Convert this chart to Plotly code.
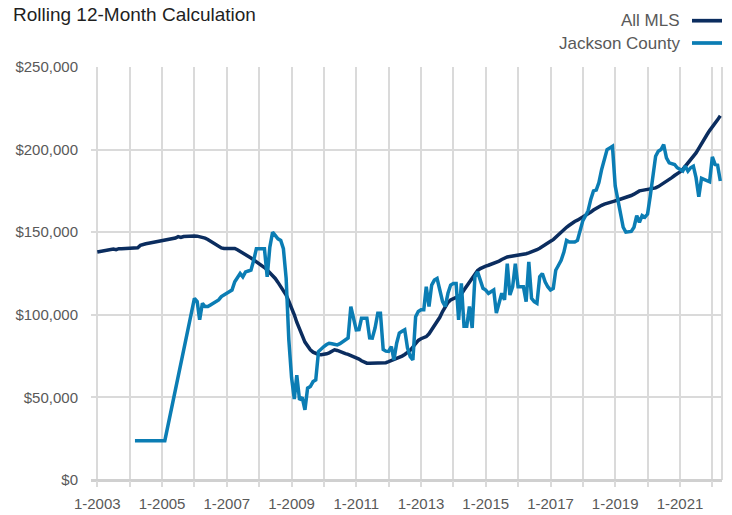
import pandas as pd
import plotly.graph_objects as go

# Rolling 12-month median price, in thousands of dollars, monthly
all_mls_start = "2003-01-01"
all_mls = [
    138.0, 138.3, 138.6, 139.0, 139.3, 139.6, 139.8, 139.4, 140.0, 140.0, 140.1, 140.2,  # 2003
    140.3, 140.4, 140.5, 140.6, 142.0, 142.7, 143.0, 143.3, 143.6, 143.9, 144.1, 144.4,  # 2004
    144.8, 145.1, 145.3, 145.5, 145.8, 146.5, 147.3, 146.8, 147.4, 147.6, 147.7, 147.7,  # 2005
    147.7, 147.6, 147.3, 146.7, 146.4, 145.6, 144.6, 143.4, 142.2, 141.2, 140.5, 140.2,  # 2006
    140.2, 140.2, 140.2, 140.2, 139.4, 138.5, 137.6, 136.6, 135.5, 134.4, 133.2, 132.1,  # 2007
    131.2, 130.0, 128.6, 127.1, 125.6, 124.1, 122.0, 119.6, 117.2, 115.0, 112.0, 108.2,  # 2008
    104.5, 100.0, 95.5, 92.0, 87.5, 83.5, 80.8, 78.8, 77.4, 76.6, 76.0, 75.8,            # 2009
    76.0, 76.4, 77.0, 77.8, 78.8, 78.4, 77.6, 77.0, 76.5, 76.0, 75.4, 74.8,              # 2010
    74.0, 73.2, 72.2, 71.2, 70.7, 70.7, 70.7, 70.7, 70.7, 70.7, 70.8, 71.0,              # 2011
    71.6, 72.2, 72.8, 73.3, 74.0, 75.0, 76.0, 77.0, 78.5, 80.5, 82.5, 84.5,              # 2012
    85.5, 86.2, 86.8, 88.5, 91.0, 93.5, 95.5, 98.5, 102.0, 105.0, 107.5, 109.0,          # 2013
    110.0, 110.5, 111.0, 112.5, 115.0, 117.5, 119.5, 122.0, 124.5, 126.8, 128.0, 129.0,  # 2014
    129.5, 130.0, 130.5, 131.3, 132.0, 132.5, 133.5, 134.5, 135.0, 135.3, 135.5, 135.8,  # 2015
    136.0, 136.3, 136.6, 137.0, 137.5, 138.0, 138.6, 139.4, 140.3, 141.2, 142.2, 143.5,  # 2016
    144.5, 145.5, 147.0, 148.5, 150.0, 151.5, 153.0, 154.2, 155.5, 156.5, 157.3, 158.2,  # 2017
    159.2, 160.2, 161.2, 162.2, 163.4, 164.5, 165.5, 166.3, 167.0, 167.6, 168.1, 168.5,  # 2018
    169.0, 169.5, 170.0, 170.4, 170.8, 171.3, 172.2, 173.0, 174.0, 175.0, 175.3, 175.6,  # 2019
    175.8, 176.0, 176.3, 176.8, 177.6, 178.6, 179.6, 180.5, 181.5, 183.0, 184.3, 185.3,  # 2020
    186.5, 188.0, 189.8, 191.5, 193.5, 195.5, 198.0, 200.8, 203.8, 206.5, 209.0, 211.5,  # 2021
    213.5, 215.5, 218.0, 220.5,                                                          # 2022
]

jackson_start = "2004-01-01"
jackson = [
    None, None, 23.8, 23.8, 23.8, 23.8, 23.8, 23.8, 23.8, 23.8, 23.8, 23.8,              # 2004
    23.8, 23.8, None, None, None, None, None, None, None, None, None, None,              # 2005
    110, 108, 97, 107, 105, 105, 106, 107, 108, 109, 111, 112,                           # 2006
    113, 114, 115, 120, 123, 125, 123, 126, 126.5, 127, 133, 140,                        # 2007
    140, 140, 140, 123, 141, 150, 148, 146, 145, 140, 122, 85,                           # 2008
    62, 49, 63.5, 48.5, 50, 42.5, 55.6, 56.6, 59.6, 60.6, 77.8, 79.5,                    # 2009
    80.8, 82, 82.8, 82.5, 82, 81.8, 82.5, 83.8, 85, 86, 105, 98,                         # 2010
    90.9, 91, 97.9, 97.9, 97.9, 86, 85.9, 92, 101, 101, 79, 78,                          # 2011
    77.8, 80.8, 72.7, 82.8, 88.9, 90, 90.9, 80, 74.7, 72.7, 98.9, 102,                   # 2012
    103, 103, 117, 105, 118, 121, 122, 115, 108, 105, 113, 118,                          # 2013
    119, 119, 97, 119, 93, 93, 105, 92, 123, 126, 121, 116,                              # 2014
    115, 113, 114, 115, 101, 108, 113, 109, 131, 112, 117, 131,                          # 2015
    117, 117, 117, 108, 132, 110, 108, 107, 123, 125, 120, 117,                          # 2016
    115, 116, 127, 130, 133, 138, 145, 144, 144, 144, 145, 152,                          # 2017
    157, 160, 163, 170, 175, 175.5, 180, 188, 195, 200, 201, 202,                        # 2018
    178, 170, 162, 153, 150, 150, 150.5, 153, 160, 156, 160, 159,                        # 2019
    161, 172, 185, 196, 199, 200, 203, 195, 192, 191.5, 191, 189,                        # 2020
    188, 187, 190, 187, 189, 190, 183, 171.5, 182.6, 182, 181, 180.5,                    # 2021
    195.6, 191, 190.6, 181,                                                              # 2022
]

series_names = ["All MLS", "Jackson County"]
series_colors = ["#0b2d5f", "#0b7db4"]

tick_years = list(range(2003, 2023))
tick_labels = [f"1-{y}" if (y - 2003) % 2 == 0 else "" for y in tick_years]
y_ticks = [0, 50000, 100000, 150000, 200000, 250000]
y_tick_labels = ["$0", "$50,000", "$100,000", "$150,000", "$200,000", "$250,000"]

FONT = "Liberation Sans, Arial, sans-serif"
GRID = "#dadada"

mls_dates = pd.date_range(all_mls_start, periods=len(all_mls), freq="MS")
jc_dates = pd.date_range(jackson_start, periods=len(jackson), freq="MS")

fig = go.Figure()
fig.add_trace(go.Scatter(
    x=mls_dates, y=[v * 1000 for v in all_mls], mode="lines", name=series_names[0],
    line=dict(color=series_colors[0], width=3.5), connectgaps=True))
fig.add_trace(go.Scatter(
    x=jc_dates, y=[None if v is None else v * 1000 for v in jackson], mode="lines",
    name=series_names[1], line=dict(color=series_colors[1], width=3.5), connectgaps=True))

L, R, T, B = 91, 10, 67, 35
fig.update_layout(
    width=732, height=515,
    margin=dict(l=L, r=R, t=T, b=B, pad=0, autoexpand=False),
    paper_bgcolor="white", plot_bgcolor="white",
    showlegend=False,
    font=dict(family=FONT, color="#595959"),
    xaxis=dict(
        type="date", automargin=False,
        range=["2002-10-22", "2022-04-20"],
        tickvals=[f"{y}-01-01" for y in tick_years],
        ticktext=tick_labels,
        showgrid=True, gridcolor=GRID, gridwidth=2,
        ticks="outside", ticklen=6, tickwidth=2, tickcolor=GRID,
        ticklabelstandoff=4,
        tickfont=dict(size=15, color="#595959"),
        showline=False, zeroline=False,
    ),
    yaxis=dict(
        range=[0, 250000], automargin=False,
        tickvals=y_ticks, ticktext=y_tick_labels,
        showgrid=True, gridcolor=GRID, gridwidth=2,
        zeroline=True, zerolinecolor="#d0d0d0", zerolinewidth=2.5,
        ticks="", ticklabelstandoff=12,
        tickfont=dict(size=15, color="#595959"),
        showline=False,
    ),
)

# right border of plot area
fig.add_shape(type="line", xref="paper", yref="paper", x0=1, x1=1, y0=0, y1=1,
              line=dict(color=GRID, width=2), layer="below")

PW = 732 - L - R
PH = 515 - T - B
def px(xp):
    return (xp - L) / PW
def py(yp):
    return 1 + (T - yp) / PH

# title
fig.add_annotation(text="Rolling 12-Month Calculation", xref="paper", yref="paper",
                   x=px(11), y=py(14), xanchor="left", yanchor="middle", showarrow=False,
                   font=dict(size=19, color="#1f1f1f", family=FONT))

# legend (text to the left of the line sample)
leg_y = [20.7, 43.0]
for name, color, yy in zip(series_names, series_colors, leg_y):
    fig.add_annotation(text=name, xref="paper", yref="paper", x=px(682), y=py(yy),
                       xanchor="right", yanchor="middle", showarrow=False,
                       font=dict(size=17, color="#595959", family=FONT))
    fig.add_shape(type="line", xref="paper", yref="paper", x0=px(692), x1=px(722),
                  y0=py(yy), y1=py(yy), line=dict(color=color, width=3.7))

fig.write_html("out.html", config={"displayModeBar": False},
               post_script="document.body.style.margin='0';")
